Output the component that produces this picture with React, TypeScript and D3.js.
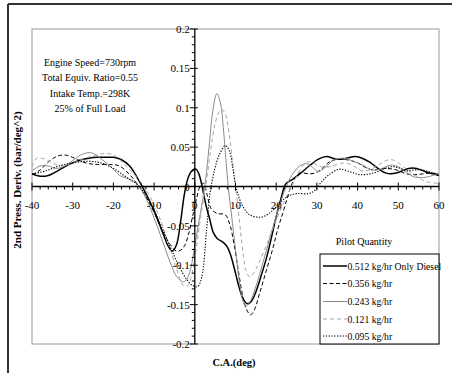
import React from "react";
import * as d3 from "d3";

const xTicks = [-40, -30, -20, -10, 0, 10, 20, 30, 40, 50, 60];
const yTicks = [-0.2, -0.15, -0.1, -0.05, 0, 0.05, 0.1, 0.15, 0.2];
const yTickLabels = ["-0.2", "-0.15", "-0.1", "-0.05", "0", "0.05", "0.1", "0.15", "0.2"];

const notes = ["Engine Speed=730rpm", "Total Equiv. Ratio=0.55", "Intake Temp.=298K", "25% of Full Load"];

const seriesNames = ["0.512 kg/hr Only Diesel", "0.356 kg/hr", "0.243 kg/hr", "0.121 kg/hr", "0.095 kg/hr"];

const s512: [number, number][] = [
  [-40, 0.016], [-38, 0.013], [-36, 0.014], [-34, 0.019], [-32, 0.025], [-30, 0.03], [-28, 0.034], [-26, 0.036],
  [-24, 0.037], [-22, 0.037], [-20, 0.037], [-18, 0.034], [-16, 0.026], [-14, 0.01], [-12, -0.009], [-10, -0.031],
  [-8, -0.057], [-6.5, -0.076], [-5.5, -0.082], [-4.5, -0.074], [-3.5, -0.045], [-2.5, -0.008], [-1.5, 0.013],
  [-0.5, 0.021], [0.3, 0.022], [1, 0.016], [1.8, 0.0], [2.8, -0.025], [3.7, -0.042], [4.5, -0.058], [5.5, -0.066],
  [7, -0.071], [8, -0.077], [8.8, -0.087], [10, -0.11], [11, -0.13], [12, -0.144], [13, -0.149], [14, -0.145],
  [15.2, -0.131], [16.5, -0.11], [17.7, -0.089], [19, -0.061], [20.1, -0.036], [21.2, -0.015], [22.3, 0.003],
  [24, 0.009], [25.8, 0.016], [28.3, 0.027], [30.5, 0.035], [32.4, 0.038], [34.5, 0.035], [36.5, 0.035],
  [39.5, 0.038], [41.5, 0.035], [43, 0.031], [45, 0.023], [47, 0.017], [49.5, 0.017], [52.5, 0.023],
  [54.5, 0.023], [56.5, 0.019], [58.5, 0.016], [60, 0.014],
];

const s356: [number, number][] = [
  [-40, 0.015], [-38, 0.021], [-36, 0.031], [-34, 0.038], [-32, 0.04], [-30, 0.037], [-28, 0.032], [-26, 0.029],
  [-24, 0.028], [-21, 0.028], [-18.5, 0.026], [-16, 0.015], [-14, 0.002], [-12, -0.013], [-10, -0.033], [-8, -0.056],
  [-6, -0.074], [-4.5, -0.082], [-3.5, -0.081], [-2.5, -0.075], [-1.5, -0.06], [-0.5, -0.037], [0.5, -0.014],
  [1.3, 0.0], [2.2, 0.004], [3, -0.01], [4, -0.028], [5.4, -0.034], [7.5, -0.036], [8.7, -0.05], [9.7, -0.075],
  [10.7, -0.107], [11.7, -0.137], [12.7, -0.156], [13.7, -0.163], [14.6, -0.157], [15.9, -0.136], [17.5, -0.108],
  [19.1, -0.08], [20.4, -0.054], [21.6, -0.034], [22.7, -0.015], [23.6, 0.0], [24.6, 0.011], [25.8, 0.017],
  [28.3, 0.016], [30, 0.018], [31.5, 0.024], [33, 0.031], [34.5, 0.034], [37.3, 0.034], [40, 0.03], [42, 0.024],
  [43.8, 0.021], [45.5, 0.022], [47, 0.023], [49.6, 0.021], [52, 0.016], [54, 0.015], [56, 0.016], [58, 0.017],
  [60, 0.016],
];

const s243: [number, number][] = [
  [-40, 0.02], [-38, 0.026], [-36, 0.026], [-34, 0.023], [-32, 0.026], [-30, 0.033], [-28, 0.04], [-26, 0.043],
  [-24.5, 0.041], [-23, 0.035], [-21.5, 0.029], [-20, 0.022], [-18.5, 0.014], [-17, 0.011], [-15.5, 0.008],
  [-14, 0.002], [-12, -0.015], [-10, -0.04], [-8, -0.068], [-6, -0.097], [-4.5, -0.114], [-3, -0.121], [-2, -0.118],
  [-1, -0.104], [0, -0.075], [1, -0.045], [2, -0.015], [2.7, 0.01], [3.5, 0.05], [4.4, 0.095], [5.4, 0.118],
  [6.3, 0.106], [7, 0.075], [7.6, 0.037], [8.2, 0.0], [9, -0.035], [10, -0.08], [11, -0.123], [11.8, -0.145],
  [12.5, -0.152], [13.5, -0.147], [15, -0.127], [17, -0.092], [19, -0.055], [21, -0.021], [22.8, 0.004],
  [24.2, 0.017], [25.8, 0.026], [27.5, 0.029], [29, 0.024], [30.3, 0.019], [32, 0.024], [34, 0.033], [36.5, 0.036],
  [39, 0.032], [41.3, 0.027], [43.5, 0.021], [45.5, 0.022], [48, 0.027], [50, 0.025], [52, 0.018], [54, 0.012],
  [57, 0.012], [60, 0.017],
];

const s121: [number, number][] = [
  [-40, 0.025], [-38.8, 0.036], [-37, 0.035], [-35, 0.03], [-33, 0.026], [-31, 0.028], [-29, 0.032], [-27, 0.036],
  [-25, 0.039], [-22, 0.042], [-20, 0.04], [-18.4, 0.034], [-16.5, 0.024], [-14.3, 0.012], [-12.5, 0.0],
  [-11, -0.013], [-9, -0.035], [-7, -0.064], [-5, -0.097], [-4, -0.112], [-3, -0.125], [-2, -0.127], [-1, -0.117],
  [0, -0.09], [1, -0.055], [2, -0.02], [3, 0.012], [4, 0.05], [5, 0.08], [6, 0.095], [6.6, 0.098], [7.5, 0.092],
  [8.5, 0.065], [9.3, 0.03], [10, 0.0], [11, -0.045], [12, -0.09], [12.8, -0.11], [13.6, -0.115], [15, -0.105],
  [17, -0.082], [19, -0.056], [21, -0.03], [23, -0.008], [24.5, 0.008], [26, 0.022], [27.5, 0.031], [29, 0.03],
  [31, 0.025], [33, 0.025], [35, 0.028], [37, 0.03], [39, 0.026], [41, 0.02], [43, 0.021], [45, 0.027], [47, 0.033],
  [48.5, 0.034], [50, 0.03], [52, 0.022], [54, 0.015], [56, 0.008], [58, 0.005], [60, 0.004],
];

const s095: [number, number][] = [
  [-40, 0.016], [-38, 0.018], [-36, 0.021], [-34, 0.025], [-32, 0.028], [-30, 0.03], [-27, 0.032], [-24, 0.031],
  [-22, 0.028], [-20, 0.023], [-18, 0.016], [-16, 0.009], [-14, 0.002], [-12, -0.011], [-10, -0.03], [-8, -0.053],
  [-6, -0.077], [-4, -0.1], [-2, -0.118], [-0.5, -0.126], [0.7, -0.127], [1.7, -0.115], [2.9, -0.055], [3.7, -0.01],
  [4.8, 0.02], [6, 0.04], [7.5, 0.052], [8.5, 0.045], [9.3, 0.025], [10.1, 0.0], [11, -0.016], [12, -0.027],
  [13.5, -0.036], [15.5, -0.039], [17, -0.038], [19, -0.031], [21, -0.02], [23, -0.012], [25, -0.009], [28, -0.009],
  [29.5, -0.005], [31, 0.005], [33, 0.015], [35.5, 0.022], [38, 0.019], [40.5, 0.015], [43, 0.016], [45, 0.019],
  [48, 0.025], [50, 0.024], [52, 0.02], [54, 0.021], [56, 0.021], [58, 0.018], [60, 0.015],
];

const seriesData = [s512, s356, s243, s121, s095];
const styles = [
  { stroke: "#000", width: 1.5, dash: "" },
  { stroke: "#000", width: 1, dash: "4,2.5" },
  { stroke: "#8a8a8a", width: 1, dash: "" },
  { stroke: "#a6a6a6", width: 1, dash: "4,3" },
  { stroke: "#000", width: 1.1, dash: "1.3,1.5" },
];

export default function App() {
  const W = 452, H = 373;
  const L = 32, R = 439, T = 29, B = 344;
  const x = d3.scaleLinear().domain([-40, 60]).range([L, R]);
  const y = d3.scaleLinear().domain([-0.2, 0.2]).range([B, T]);
  const line = d3
    .line<[number, number]>()
    .x((d) => x(d[0]))
    .y((d) => y(d[1]))
    .curve(d3.curveCatmullRom.alpha(0.5));

  const x0 = x(0), y0 = y(0);
  const minorX = d3.range(-40, 61, 2).filter((v) => v % 10 !== 0);
  const minorY = d3.range(-20, 21, 1).filter((v) => v % 5 !== 0).map((v) => v / 100);
  const font = "'Liberation Serif', 'Times New Roman', serif";

  const legX = 320, legY = 254, legW = 119, legH = 90;
  const legRows = [266, 283.5, 301.5, 319, 336];

  return (
    <svg width={W} height={H} style={{ position: "absolute", left: 0, top: 0, background: "#fff" }} fontFamily={font}>
      <defs>
        <clipPath id="plotclip">
          <rect x={L} y={T} width={R - L} height={B - T} />
        </clipPath>
      </defs>
      <line x1={8} y1={4} x2={W} y2={4} stroke="#333" strokeWidth={2} />
      <line x1={8} y1={4} x2={8} y2={H} stroke="#333" strokeWidth={2} />
      <rect x={L} y={T} width={R - L} height={B - T} fill="none" stroke="#9a9a9a" strokeWidth={1} />

      <g clipPath="url(#plotclip)">
        {seriesData.map((s, i) => (
          <path
            key={i}
            d={line(s) || ""}
            fill="none"
            stroke={styles[i].stroke}
            strokeWidth={styles[i].width}
            strokeDasharray={styles[i].dash || undefined}
          />
        ))}
      </g>

      <line x1={L} y1={y0} x2={R} y2={y0} stroke="#000" strokeWidth={1.3} />
      <line x1={x0} y1={T} x2={x0} y2={B} stroke="#000" strokeWidth={1.3} />
      {xTicks.map((t) => (
        <line key={"xt" + t} x1={x(t)} x2={x(t)} y1={y0 - 4} y2={y0 + 4} stroke="#000" strokeWidth={1} />
      ))}
      {minorX.map((t) => (
        <line key={"xm" + t} x1={x(t)} x2={x(t)} y1={y0} y2={y0 + 3} stroke="#000" strokeWidth={1} />
      ))}
      {yTicks.map((t) => (
        <line key={"yt" + t} x1={x0 - 5} x2={x0 + 3} y1={y(t)} y2={y(t)} stroke="#000" strokeWidth={1} />
      ))}
      {minorY.map((t) => (
        <line key={"ym" + t} x1={x0 - 3} x2={x0} y1={y(t)} y2={y(t)} stroke="#000" strokeWidth={1} />
      ))}
      {xTicks.map((t) => (
        <text key={"xl" + t} x={x(t)} y={y0 + 22} fontSize={11} textAnchor="middle" fill="#000">
          {t}
        </text>
      ))}
      {yTicks.map((t, i) => (
        <text key={"yl" + t} x={x0 - 5} y={y(t) + 4} fontSize={11} textAnchor="end" fill="#000">
          {yTickLabels[i]}
        </text>
      ))}

      <text transform="translate(21,180) rotate(-90)" fontSize={11} fontWeight="bold" textAnchor="middle">
        2nd Press. Deriv. (bar/deg^2)
      </text>
      <text x={234} y={366} fontSize={10.5} fontWeight="bold" textAnchor="middle">
        C.A.(deg)
      </text>

      {notes.map((n, i) => (
        <text key={n} x={90} y={65.5 + i * 15.5} fontSize={10} textAnchor="middle">
          {n}
        </text>
      ))}

      <text x={364} y={244.5} fontSize={10} textAnchor="middle">
        Pilot Quantity
      </text>
      <rect x={legX} y={legY} width={legW} height={legH} fill="#fff" stroke="#000" strokeWidth={1} />
      {seriesNames.map((n, i) => (
        <g key={n}>
          <line
            x1={323}
            x2={347}
            y1={legRows[i]}
            y2={legRows[i]}
            stroke={styles[i].stroke}
            strokeWidth={styles[i].width}
            strokeDasharray={styles[i].dash || undefined}
          />
          <text x={347.5} y={legRows[i] + 3.5} fontSize={9.7}>
            {n}
          </text>
        </g>
      ))}
    </svg>
  );
}
